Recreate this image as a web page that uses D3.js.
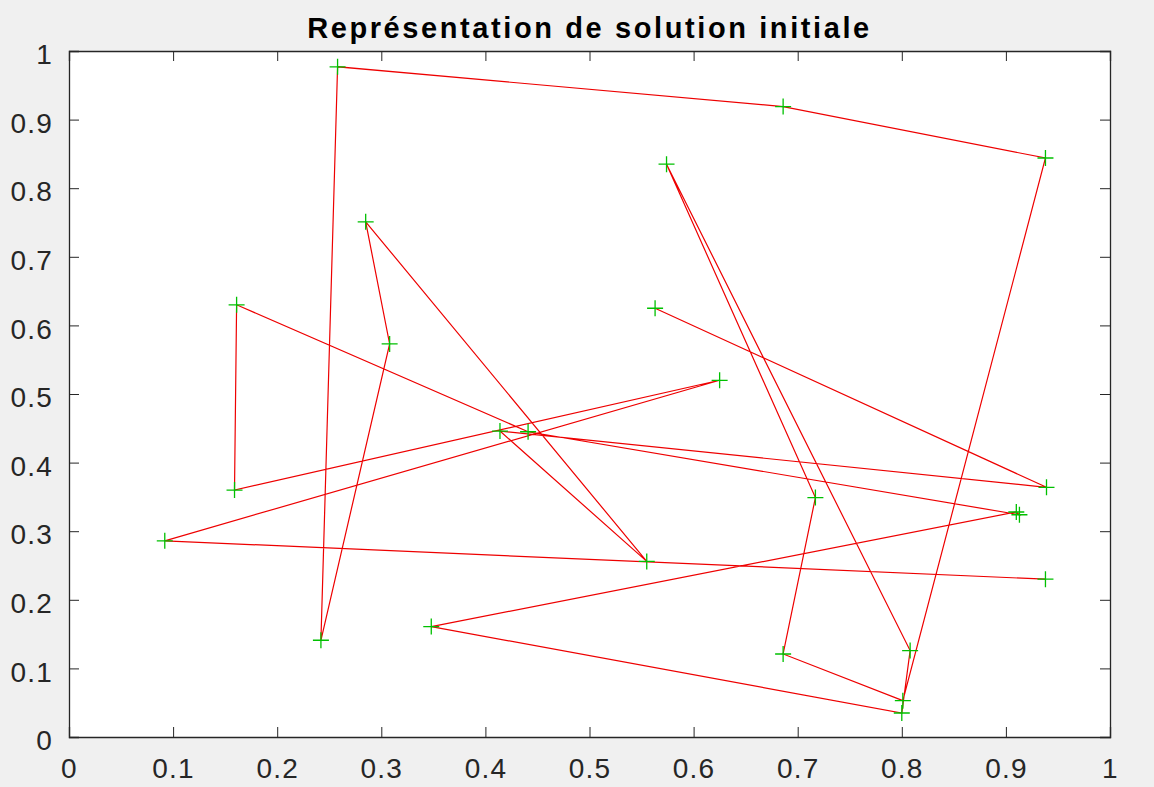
<!DOCTYPE html>
<html>
<head>
<meta charset="utf-8">
<script src="https://cdn.jsdelivr.net/npm/d3@7"></script>
<style>
  body { margin: 0; background: #f0f0f0; }
  .tick text { font-family: "Liberation Sans", Arial, sans-serif; font-size: 28px; fill: #262626; letter-spacing: 1.2px; }
  .domain, .tick line { stroke: #262626; }
</style>
</head>
<body>
<div id="plot"></div>
<script>
// points of the tour, in the order they are visited
var tourX = [0.563, 0.939, 0.414, 0.555, 0.285, 0.308, 0.242, 0.258, 0.686, 0.938,
  0.801, 0.686, 0.717, 0.574, 0.808, 0.800, 0.348, 0.910, 0.913, 0.441,
  0.161, 0.159, 0.625, 0.092, 0.938];
var tourY = [0.625, 0.364, 0.446, 0.256, 0.751, 0.573, 0.141, 0.977, 0.919, 0.844,
  0.053, 0.121, 0.349, 0.835, 0.126, 0.035, 0.161, 0.328, 0.324, 0.445,
  0.630, 0.360, 0.520, 0.286, 0.230];

// tick labels for both axes
var tickValues = [0, 0.1, 0.2, 0.3, 0.4, 0.5, 0.6, 0.7, 0.8, 0.9, 1];

var titleText = "Représentation de solution initiale";

// size of the figure
var svgWidth = 1154;
var svgHeight = 787;

var margin = {
  top: 51,
  right: 44,
  bottom: 50,
  left: 69
};

var width = svgWidth - margin.left - margin.right;
var height = svgHeight - margin.top - margin.bottom;

var svg = d3
.select("#plot")
.append("svg")
.attr("width", svgWidth)
.attr("height", svgHeight);

svg.append("rect")
.attr("width", svgWidth)
.attr("height", svgHeight)
.attr("fill", "#f0f0f0");

var chartGroup = svg.append("g")
.attr("transform", `translate(${margin.left}, ${margin.top})`);

// white plotting area
chartGroup.append("rect")
.attr("width", width)
.attr("height", height)
.attr("fill", "white");

var xLinearScale = d3.scaleLinear()
.domain([0, 1])
.range([0, width]);

var yLinearScale = d3.scaleLinear()
.domain([0, 1])
.range([height, 0]);

// build point list from the two arrays
var points = tourX.map(function(x, i) {
  return { x: x, y: tourY[i] };
});

// tour line
var tourLine = d3.line()
.x(d => xLinearScale(d.x))
.y(d => yLinearScale(d.y));

chartGroup.append("path")
.datum(points)
.attr("d", tourLine)
.attr("fill", "none")
.attr("stroke", "#ee0000")
.attr("stroke-width", 1.2);

// green + markers
chartGroup.selectAll(".marker")
.data(points)
.enter()
.append("path")
.attr("class", "marker")
.attr("transform", d => `translate(${xLinearScale(d.x)}, ${yLinearScale(d.y)})`)
.attr("d", "M-8,0H8M0,-8V8")
.attr("stroke", "#00c000")
.attr("stroke-width", 1.3)
.attr("fill", "none");

// axes, ticks pointing inward like matlab
var bottomAxis = d3.axisBottom(xLinearScale)
.tickValues(tickValues)
.tickFormat(d => String(d))
.tickSize(-10)
.tickPadding(21);

var leftAxis = d3.axisLeft(yLinearScale)
.tickValues(tickValues)
.tickFormat(d => String(d))
.tickSize(-10)
.tickPadding(16);

var topAxis = d3.axisTop(xLinearScale)
.tickValues(tickValues)
.tickFormat("")
.tickSize(-10);

var rightAxis = d3.axisRight(yLinearScale)
.tickValues(tickValues)
.tickFormat("")
.tickSize(-10);

chartGroup.append("g")
.attr("transform", `translate(0, ${height})`)
.call(bottomAxis);

var yAxis = chartGroup.append("g")
.call(leftAxis);

yAxis.selectAll("text")
.attr("dy", "0.45em");

chartGroup.append("g")
.call(topAxis);

chartGroup.append("g")
.attr("transform", `translate(${width}, 0)`)
.call(rightAxis);

chartGroup.selectAll(".domain")
.attr("stroke-width", 1.3);

// title
svg.append("text")
.attr("x", margin.left + width / 2)
.attr("y", 38)
.attr("text-anchor", "middle")
.attr("font-family", "Liberation Sans, Arial, sans-serif")
.attr("font-size", "29px")
.attr("font-weight", "bold")
.attr("letter-spacing", "2.6px")
.attr("fill", "black")
.text(titleText);
</script>
</body>
</html>
